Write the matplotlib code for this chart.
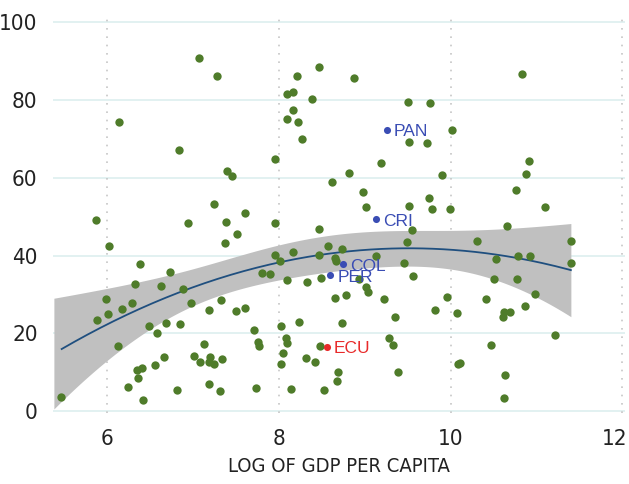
import matplotlib
matplotlib.use('Agg')
from matplotlib import pyplot as plt
from matplotlib import font_manager
from matplotlib.transforms import ScaledTranslation
import numpy as np

# data: log gdp per capita vs score
gdp = [7.07, 7.28, 6.14, 6.84, 7.40, 7.45, 7.25, 7.61, 5.87, 6.94, 7.38, 7.51, 7.95, 7.96, 7.37,
       8.47, 8.21, 8.88, 8.10, 8.16, 8.39, 9.50, 9.76, 8.17, 8.09, 8.22, 8.27, 9.51, 9.72, 9.19,
       8.82, 8.62, 9.90, 8.98, 9.75, 9.02, 9.51, 9.78, 10.83, 10.02, 10.91, 10.88, 10.76, 9.99,
       11.10, 9.55, 8.47, 10.66, 6.02, 6.38, 6.73, 6.33, 6.63, 6.88, 5.99, 6.98, 7.33, 6.17, 6.29,
       6.01, 5.88, 7.19, 7.50, 7.60, 6.49, 6.68, 6.85, 6.58, 6.13, 7.13, 6.66, 7.01, 7.08, 7.20,
       7.19, 7.24, 7.34, 6.56, 6.35, 6.41, 6.36, 6.24, 6.81, 7.19, 7.32, 6.42, 5.46, 9.49, 8.57,
       8.74, 8.16, 7.96, 8.47, 8.01, 8.65, 8.67, 9.13, 9.46, 7.80, 7.90, 8.09, 8.33, 8.49, 8.93,
       9.56, 9.02, 9.04, 8.65, 8.78, 9.22, 9.82, 9.35, 8.23, 8.73, 7.71, 8.03, 8.08, 8.10, 7.76,
       7.77, 9.28, 9.33, 8.05, 8.48, 8.32, 8.42, 8.02, 8.69, 8.68, 9.39, 7.73, 8.14, 8.53, 10.31,
       11.40, 10.53, 10.78, 10.92, 11.40, 10.51, 10.77, 10.98, 9.96, 10.41, 10.07, 10.87, 10.62,
       10.69, 10.61, 11.22, 10.47, 10.08, 10.11, 10.63, 10.62]
score = [90.7, 86.2, 74.4, 67.2, 61.8, 60.5, 53.2, 51.0, 49.0, 48.3, 48.7, 45.5, 48.3, 64.8, 43.3,
         88.4, 86.1, 85.6, 81.5, 82.1, 80.3, 79.3, 79.1, 77.3, 75.0, 74.3, 70.0, 69.2, 68.8, 63.7,
         61.1, 59.0, 60.7, 56.3, 54.9, 52.5, 52.7, 52.0, 86.5, 72.2, 64.3, 61.0, 56.7, 52.0,
         52.4, 46.6, 46.7, 47.7, 42.5, 37.8, 35.8, 32.8, 32.2, 31.3, 28.8, 27.8, 28.5, 26.3, 27.8,
         25.1, 23.4, 26.0, 25.8, 26.6, 21.9, 22.7, 22.5, 20.0, 16.7, 17.4, 13.9, 14.1, 12.6, 14.0,
         12.6, 12.1, 13.4, 11.9, 10.7, 11.2, 8.6, 6.2, 5.6, 7.1, 5.2, 2.9, 3.6, 43.6, 42.4,
         41.6, 40.9, 40.1, 40.2, 38.6, 39.4, 38.7, 39.8, 38.2, 35.4, 35.2, 33.7, 33.3, 34.2, 33.9,
         34.8, 32.0, 30.6, 29.2, 29.8, 28.9, 26.0, 24.2, 22.9, 22.6, 21.0, 21.9, 18.8, 17.6, 17.8,
         16.7, 18.9, 17.1, 15.0, 16.8, 13.8, 12.6, 12.1, 10.1, 7.7, 10.1, 6.1, 5.8, 5.6, 43.7,
         43.7, 39.1, 40.0, 40.0, 38.0, 33.9, 34.0, 30.2, 29.3, 28.9, 25.3, 27.0, 25.6,
         25.4, 24.3, 19.7, 17.1, 12.1, 12.4, 9.4, 3.5]

# highlighted countries
hl_names = ['PAN', 'CRI', 'COL', 'PER', 'ECU']
hl_gdp = [9.26, 9.13, 8.75, 8.60, 8.56]
hl_score = [72.3, 49.3, 37.8, 34.9, 16.6]
hl_colors = ['#3a4db4', '#3a4db4', '#3a4db4', '#3a4db4', '#e82a2a']

x_ticks = [6, 8, 10, 12]
y_ticks = [0, 20, 40, 60, 80, 100]


def narrow_font(size):
    # look for some condensed sans face, else fall back to Liberation Sans
    for f in font_manager.fontManager.ttflist:
        nm = f.name.lower()
        if f.style != 'normal' or f.weight not in (400, 'normal', 'regular'):
            continue
        if 'mono' in nm or 'serif' in nm and 'sans' not in nm:
            continue
        if 'narrow' in nm or 'condensed' in nm or str(f.stretch) in ('condensed', 'semi-condensed'):
            return font_manager.FontProperties(fname=f.fname, size=size)
    return font_manager.FontProperties(family='Liberation Sans', size=size - 1.5)


tick_fp = narrow_font(16)
label_fp = narrow_font(14.5)

fig = plt.figure(figsize=(6.29, 4.84), dpi=100)
ax = fig.add_axes([0.0843, 0.146, 0.9093, 0.817])

# quadratic fit with 95% band
x = np.array(gdp + hl_gdp)
y = np.array(score + hl_score)
X = np.column_stack([np.ones_like(x), x, x ** 2])
beta, res, _, _ = np.linalg.lstsq(X, y, rcond=None)
resid = y - X @ beta
s2 = resid @ resid / (len(x) - 3)
cov = s2 * np.linalg.inv(X.T @ X)
xg = np.linspace(x.min() - 0.08, x.max(), 200)
Xg = np.column_stack([np.ones_like(xg), xg, xg ** 2])
yg = Xg @ beta
se = np.sqrt(np.einsum('ij,jk,ik->i', Xg, cov, Xg))
ax.fill_between(xg, yg - 1.97 * se, yg + 1.97 * se, color='#c0c0c0',
                linewidth=0, zorder=1)
m = xg >= x.min()
ax.plot(xg[m], yg[m], color='#1f4f7f', lw=1.3, zorder=2)

ax.scatter(gdp, score, s=36, color='#4f7c2a', linewidths=0, zorder=3)
for name, gx, gy, c in zip(hl_names, hl_gdp, hl_score, hl_colors):
    ax.scatter([gx], [gy], s=26, color=c, linewidths=0, zorder=4)
    ax.annotate(name, (gx, gy), xytext=(5, -1.5), textcoords='offset points',
                va='center', ha='left', color=c, fontsize=12.5,
                family=['Liberation Sans', 'DejaVu Sans'], zorder=5)

# Style
for sp in ax.spines.values():
    sp.set_visible(False)
for yv in y_ticks:
    ax.axhline(yv, color='#e2f1f1', lw=1.4, zorder=0)
for xv in x_ticks:
    ax.axvline(xv, color='#c6c6c6', lw=1.2, linestyle=(0, (1, 4)), zorder=0)
ax.set_xticks(x_ticks)
ax.set_yticks(y_ticks)
ax.set_xticklabels([str(v) for v in x_ticks], fontproperties=tick_fp, color='#222222')
ax.set_yticklabels([str(v) for v in y_ticks], fontproperties=tick_fp, color='#222222')
ax.tick_params(length=0, pad=11)
ax.set_xlim(5.37, 12.03)
ax.set_ylim(-0.5, 101)
ax.set_xlabel('LOG OF GDP PER CAPITA', fontproperties=label_fp, color='#222222',
              labelpad=6)

# keep the last x label inside the figure
last = ax.get_xticklabels()[-1]
last.set_transform(last.get_transform() + ScaledTranslation(-6 / 72, 0, fig.dpi_scale_trans))

plt.savefig('out.png', dpi=100)
